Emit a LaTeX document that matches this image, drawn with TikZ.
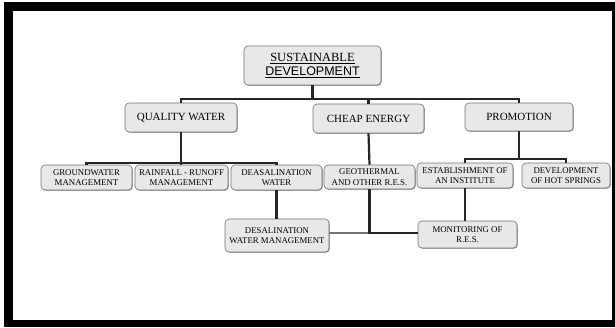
\documentclass[tikz,border=0pt]{standalone}
\usepackage{fontspec}
\setmainfont{Liberation Serif}
\newfontfamily\arialfont{Liberation Sans}
\usepackage{tikz}
\usetikzlibrary{positioning, calc, shadows}

\begin{document}
\begin{tikzpicture}[x=1pt, y=-1pt,
    box/.style={draw=black!55, line width=0.6pt, fill=black!9, rounded corners=4pt,
        align=center, inner sep=0pt,
        drop shadow={shadow xshift=0.8pt, shadow yshift=-0.8pt, fill=black!45, opacity=0.8}},
    topbox/.style={box, font=\fontsize{12.5}{14}\selectfont},
    midbox/.style={box, font=\fontsize{11}{13}\selectfont},
    lowbox/.style={box, font=\fontsize{8.8}{10.5}\selectfont},
    link/.style={draw=black!85, line width=2.2pt},
    greylink/.style={draw=black!55, line width=2pt}]
    \useasboundingbox (0,0) rectangle (615,327);

    % ---------------- FRAME ----------------
    \fill[black] (4,2) rectangle (615,327);
    \fill[white] (13,11) rectangle (612,320);

    % ---------------- TOP ----------------
    \node[topbox, minimum width=137, minimum height=39] (sd) at (312.5,65.5)
        {\underline{SUSTAINABLE}\\{\arialfont\underline{DEVELOPMENT}}};

    % ---------------- SECOND ROW ----------------
    \node[midbox, minimum width=112, minimum height=29] (qw) at (181,117.5) {QUALITY WATER};
    \node[midbox, minimum width=111, minimum height=29] (ce) at (368.5,118.5) {CHEAP ENERGY};
    \node[midbox, minimum width=108, minimum height=28] (pr) at (519,117) {PROMOTION};

    % ---------------- THIRD ROW ----------------
    \node[lowbox, minimum width=91, minimum height=25] (gw) at (86.5,177.5) {GROUNDWATER\\MANAGEMENT};
    \node[lowbox, minimum width=93, minimum height=25] (rf) at (181.5,177.5) {RAINFALL - RUNOFF\\MANAGEMENT};
    \node[lowbox, minimum width=91, minimum height=25] (dw) at (276.5,177.5) {DEASALINATION\\WATER};
    \node[lowbox, minimum width=91, minimum height=24] (geo) at (369.5,177) {GEOTHERMAL\\AND OTHER R.E.S.};
    \node[lowbox, minimum width=96, minimum height=25] (est) at (465,175.5) {ESTABLISHMENT OF\\AN INSTITUTE};
    \node[lowbox, minimum width=88, minimum height=25] (dev) at (566,175.5) {DEVELOPMENT\\OF HOT SPRINGS};

    % ---------------- FOURTH ROW ----------------
    \node[lowbox, minimum width=104, minimum height=33] (dwm) at (277,235.5) {DESALINATION\\WATER MANAGEMENT};
    \node[lowbox, minimum width=99, minimum height=27] (mon) at (467.5,234.5) {MONITORING OF\\R.E.S.};

    % ---------------- CONNECTORS ----------------
    \coordinate (sdbar) at (312.5,99);
    \coordinate (qwbar) at (181,163);
    \coordinate (prbar) at (519,159);
    \coordinate (resbar) at (369.5,233);

    \draw[link] (sd.south) -- (sdbar);
    \draw[link] (qw.north) |- (sdbar) -| (pr.north);
    \draw[link] (ce.north) -- (ce.north |- sdbar);

    \draw[link] (qw.south) -- (qwbar);
    \draw[link] (gw.north) |- (qwbar) -| (dw.north);
    \draw[link] (qwbar) -- (rf.north);

    \draw[link] (pr.south) -- (prbar);
    \draw[link] (est.north) |- (prbar) -| (dev.north);

    \draw[link] (ce.south) -- (geo.north);
    \draw[link] (dw.south) -- (dw.south |- dwm.north);
    \draw[link] (est.south) -- (est.south |- mon.north);

    \draw[greylink] (dwm.east |- resbar) -- (resbar);
    \draw[link] (geo.south) -- (resbar) -- (mon.west |- resbar);
\end{tikzpicture}
\end{document}
